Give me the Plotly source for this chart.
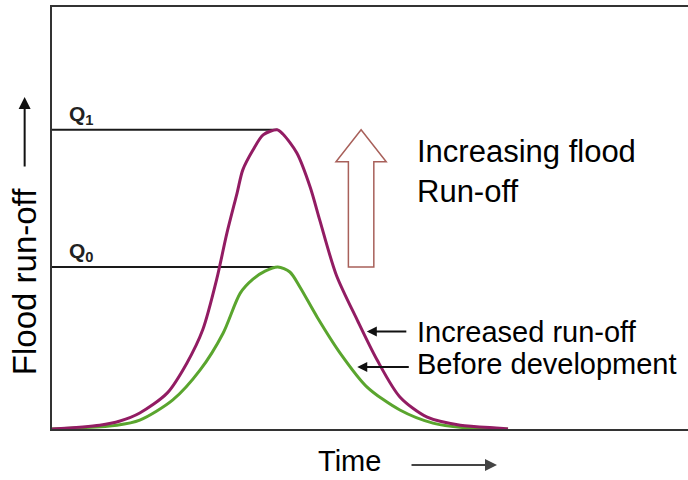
import plotly.graph_objects as go

# Hydrograph values (time and run-off in arbitrary units, 0-100)
time_increased = [0, 7.5, 10.7, 13.8, 18.1, 21.2, 23.7, 25.9, 27.5, 29.1, 30.0, 31.6,
                  33.2, 35.4, 36.3, 38.5, 40.6, 42.1, 44.7, 48.0, 51.1, 54.7, 59.0,
                  64.2, 70.4, 71.7]
flow_increased = [0, 0.9, 1.9, 3.8, 8.5, 15.6, 23.5, 35.5, 46.4, 55.9, 61.4, 66.1,
                  69.7, 70.9, 69.9, 65.4, 57.3, 49.5, 36.5, 25.8, 16.4, 7.6, 2.8,
                  0.9, 0.2, 0]

time_before = [0, 10.2, 13.8, 19.0, 23.3, 26.9, 29.6, 31.6, 33.5, 35.5, 37.4, 39.0,
               41.7, 45.3, 49.5, 54.7, 59.9, 65.7, 71.7]
flow_before = [0, 0.9, 2.1, 6.9, 14.0, 22.7, 32.2, 35.5, 37.4, 38.4, 37.2, 33.6,
               26.5, 18.0, 10.0, 4.5, 1.4, 0.2, 0]

MAGENTA = "#921c63"
GREEN   = "#5aa52e"
AXIS    = "#333333"
FONT    = "Liberation Sans, Arial, sans-serif"

q1 = max(flow_increased)
q0 = max(flow_before)
t1 = time_increased[flow_increased.index(q1)]
t0 = time_before[flow_before.index(q0)]

fig = go.Figure()

# peak lines Q1 / Q0
fig.add_trace(go.Scatter(x=[0, t1], y=[q1, q1], mode="lines",
                         line=dict(color="#1a1a1a", width=2), hoverinfo="skip"))
fig.add_trace(go.Scatter(x=[0, t0], y=[q0, q0], mode="lines",
                         line=dict(color="#1a1a1a", width=2), hoverinfo="skip"))

fig.add_trace(go.Scatter(x=time_before, y=flow_before, mode="lines",
                         name="Before development",
                         line=dict(color=GREEN, width=3, shape="spline", smoothing=0.8)))
fig.add_trace(go.Scatter(x=time_increased, y=flow_increased, mode="lines",
                         name="Increased run-off",
                         line=dict(color=MAGENTA, width=3, shape="spline", smoothing=0.8)))

# hollow "increase" arrow between Q0 and Q1
ax_c, shaft, head, head_len = 48.6, 2.0, 3.95, 7.6
path = (f"M {ax_c-shaft},{q0} L {ax_c+shaft},{q0} L {ax_c+shaft},{q1-head_len} "
        f"L {ax_c+head},{q1-head_len} L {ax_c},{q1} L {ax_c-head},{q1-head_len} "
        f"L {ax_c-shaft},{q1-head_len} Z")
fig.add_shape(type="path", path=path, xref="x", yref="y",
              line=dict(color="#a8605a", width=1.5), fillcolor="rgba(255,255,255,0)")

ann = []
ann.append(dict(x=2.4, y=q1, xref="x", yref="y", text="<b>Q<sub>1</sub></b>",
                showarrow=False, xanchor="left", yanchor="bottom", yshift=0,
                font=dict(size=21, color="#222")))
ann.append(dict(x=2.4, y=q0, xref="x", yref="y", text="<b>Q<sub>0</sub></b>",
                showarrow=False, xanchor="left", yanchor="bottom", yshift=0,
                font=dict(size=21, color="#222")))
ann.append(dict(x=57.1, y=61.0, xref="x", yref="y", text="Increasing flood<br>Run-off",
                showarrow=False, xanchor="left", yanchor="middle", align="left",
                font=dict(size=31, color="black")))
ann.append(dict(x=57.1, y=23.0, xref="x", yref="y", text="Increased run-off",
                showarrow=False, xanchor="left", yanchor="middle",
                font=dict(size=29, color="black")))
ann.append(dict(x=57.1, y=15.3, xref="x", yref="y", text="Before development",
                showarrow=False, xanchor="left", yanchor="middle",
                font=dict(size=29, color="black")))
# pointer arrows to the curves
ann.append(dict(x=49.5, y=23.1, xref="x", yref="y", ax=41, ay=0, text="",
                showarrow=True, arrowhead=2, arrowsize=1, arrowwidth=2, arrowcolor="#111"))
ann.append(dict(x=48.0, y=14.7, xref="x", yref="y", ax=53, ay=0, text="",
                showarrow=True, arrowhead=2, arrowsize=1, arrowwidth=2, arrowcolor="#111"))

# axis captions with arrows
ann.append(dict(x=-0.044, y=0.348, xref="paper", yref="paper", text="Flood run-off",
                textangle=-90, showarrow=False, xanchor="center", yanchor="middle",
                font=dict(size=33, color="black")))
ann.append(dict(x=-0.043, y=0.787, xref="paper", yref="paper", ax=0, ay=71, text="",
                showarrow=True, arrowhead=2, arrowsize=1.2, arrowwidth=2, arrowcolor="#111"))
ann.append(dict(x=0.468, y=-0.0758, xref="paper", yref="paper", text="Time",
                showarrow=False, xanchor="center", yanchor="middle",
                font=dict(size=29, color="black")))
ann.append(dict(x=0.6997, y=-0.0853, xref="paper", yref="paper", ax=-87, ay=0, text="",
                showarrow=True, arrowhead=2, arrowsize=1.2, arrowwidth=2, arrowcolor="#444"))

fig.update_layout(
    width=688, height=480,
    margin=dict(l=52, r=0, t=7, b=51),
    paper_bgcolor="white", plot_bgcolor="white",
    font=dict(family=FONT, color="black"),
    showlegend=False,
    annotations=ann,
    xaxis=dict(range=[0, 100], showgrid=False, zeroline=False, showticklabels=False,
               ticks="", showline=True, linecolor=AXIS, linewidth=2, mirror=True,
               fixedrange=True),
    yaxis=dict(range=[0, 100], showgrid=False, zeroline=False, showticklabels=False,
               ticks="", showline=True, linecolor=AXIS, linewidth=2, mirror=False,
               fixedrange=True),
)

# drop the browser's default 8px page margin so the chart sits at the window origin
fig.write_html("out.html", config={"displayModeBar": False},
               post_script="document.body.style.margin='0';")
